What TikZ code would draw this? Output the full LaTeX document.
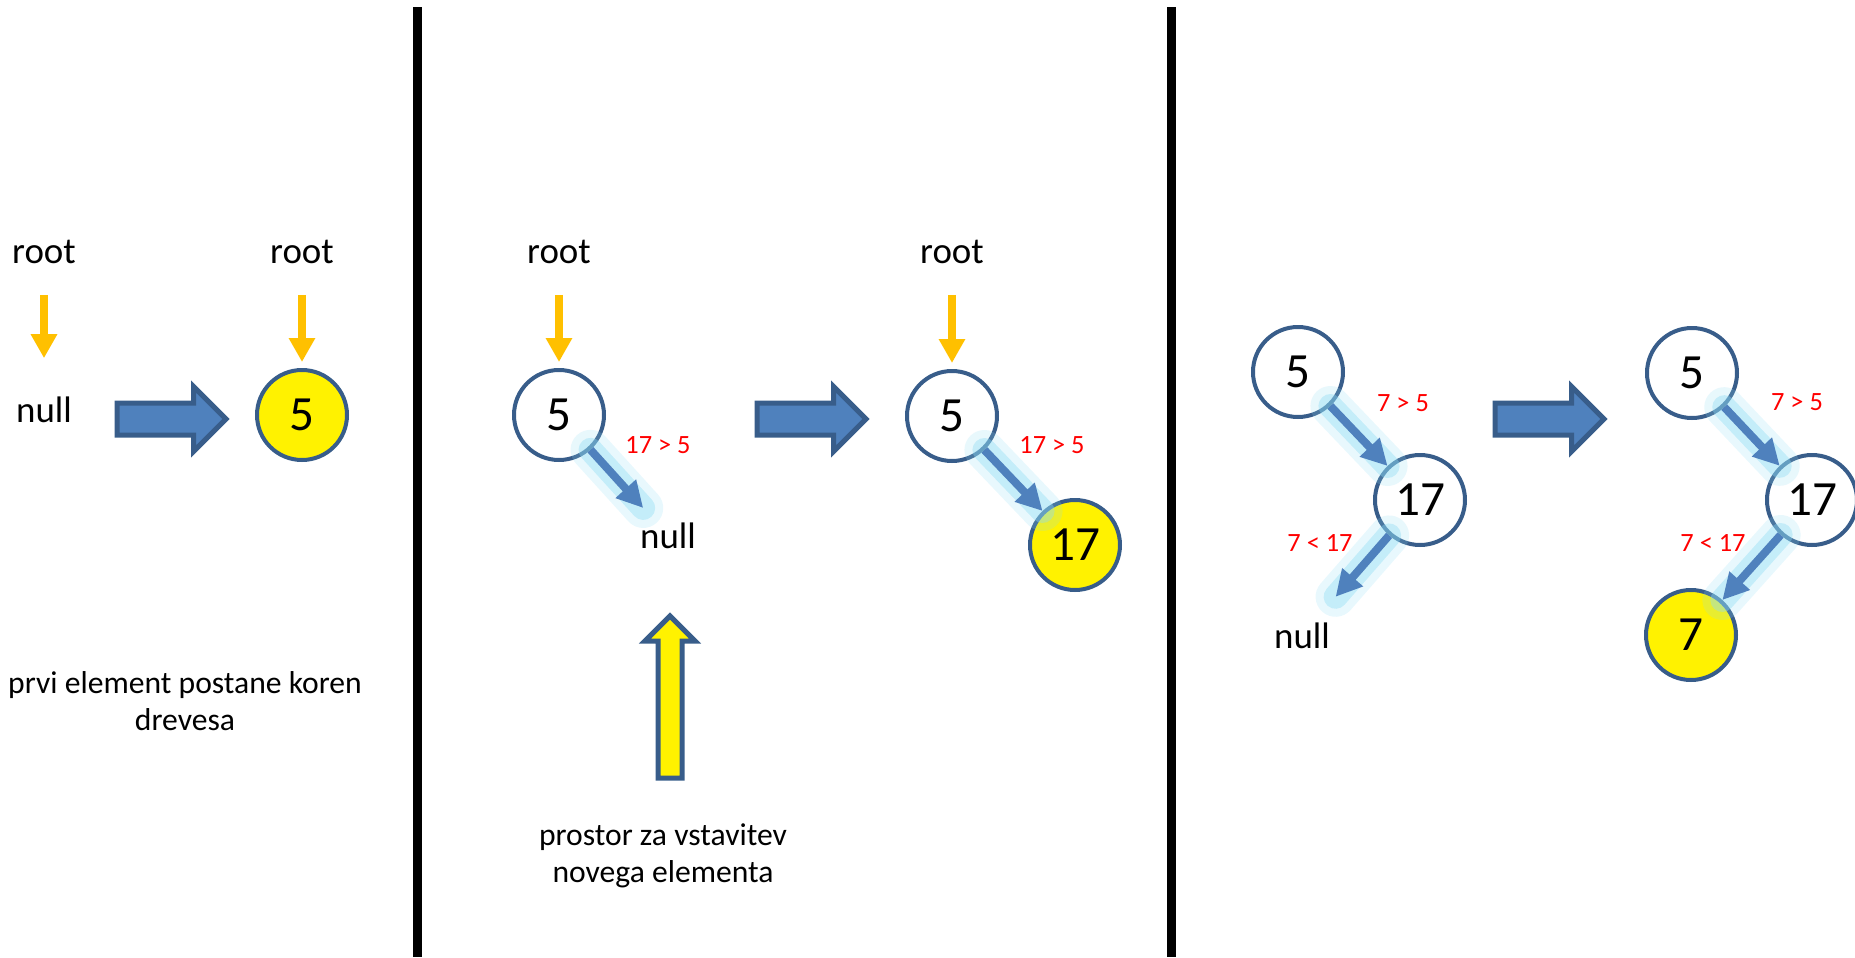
\documentclass[tikz,border=0pt]{standalone}
\usepackage{fontspec}
\setmainfont{Carlito}
\usetikzlibrary{%
  arrows.meta,%
  shapes.arrows,%
  positioning%
}
\definecolor{nodeblue}{HTML}{385D8A}
\definecolor{arrowblue}{HTML}{4F81BD}
\definecolor{rootorange}{HTML}{FFC000}
\definecolor{glowblue}{HTML}{8EDCF4}

\begin{document}
\begin{tikzpicture}[
  txt/.style={font=\fontsize{10.5}{12}\selectfont, inner sep=0pt, anchor=base},
  note/.style={font=\fontsize{9}{10.5}\selectfont, inner sep=0pt, align=center},
  cmp/.style={font=\fontsize{7.5}{9}\selectfont, text=red, inner sep=0pt},
  tnode/.style={circle, draw=nodeblue, line width=0.04cm, fill=white, minimum size=0.9cm, inner sep=0pt, font=\fontsize{14}{16}\selectfont},
  newnode/.style={tnode, fill=yellow},
  rootptr/.style={draw=rootorange, line width=0.08cm, -{Triangle[width=0.25cm,length=0.24cm]}},
  branch/.style={draw=arrowblue, line width=0.08cm, -{Triangle[width=0.26cm,length=0.26cm]},
    preaction={draw=glowblue, line width=0.40cm, opacity=0.2, line cap=round, -},
    preaction={draw=glowblue, line width=0.24cm, opacity=0.4, line cap=round, -}},
  bigarrow/.style={single arrow, anchor=tail, draw=nodeblue, fill=arrowblue, line width=0.05cm, minimum height=1.09cm, inner sep=0.135cm, single arrow head extend=0.165cm},
  spaceptr/.style={single arrow, anchor=tail, shape border rotate=90, draw=nodeblue, fill=yellow, line width=0.05cm, minimum height=1.62cm, inner sep=0.095cm, single arrow head extend=0.13cm},
  sep/.style={line width=0.09cm}
]
\useasboundingbox (0,0) rectangle (18.55,9.57);

% separators
\draw[sep] (4.17,9.5) -- (4.17,0);
\draw[sep] (11.71,9.5) -- (11.71,0);

% first element
\node[txt] (root1) at (0.44,6.94) {root};
\node[txt] (null1) at (0.44,5.35) {null};
\node[bigarrow] (then1) at (1.145,5.38) {};
\node[txt] (root2) at (3.02,6.94) {root};
\node[newnode] (c5) at (3.02,5.42) {5};
\node[note] (info1) at (1.85,2.56) {prvi element postane koren\\drevesa};
\draw[rootptr, shorten <=0.31cm, shorten >=0.375cm] (root1) -- (null1);
\draw[rootptr, shorten <=0.31cm, shorten >=0.06cm] (root2) -- (c5);

% second element
\node[txt] (root3) at (5.59,6.94) {root};
\node[tnode] (n5a) at (5.59,5.42) {5};
\node[cmp] (gt1) at (6.58,5.12) {17 > 5};
\node[txt] (null2) at (6.68,4.09) {null};
\node[spaceptr] (slot) at (6.70,1.765) {};
\node[note] (info2) at (6.63,1.01) {prostor za vstavitev\\novega elementa};
\node[bigarrow] (then2) at (7.545,5.38) {};
\node[txt] (root4) at (9.52,6.94) {root};
\node[tnode] (n5b) at (9.52,5.41) {5};
\node[cmp] (gt2) at (10.52,5.12) {17 > 5};
\node[newnode] (n17) at (10.75,4.12) {17};
\draw[rootptr, shorten <=0.31cm, shorten >=0.06cm] (root3) -- (n5a);
\draw[rootptr, shorten <=0.31cm, shorten >=0.06cm] (root4) -- (n5b);
\draw[branch, shorten >=0.185cm] (n5a) -- (null2);
\draw[branch] (n5b) -- (n17);

% third element
\node[tnode] (p5a) at (12.98,5.85) {5};
\node[cmp] (gt3) at (14.03,5.54) {7 > 5};
\node[tnode] (p17a) at (14.20,4.57) {17};
\node[cmp] (lt1) at (13.20,4.14) {7 < 17};
\node[txt] (null3) at (13.02,3.09) {null};
\node[bigarrow] (then3) at (14.925,5.38) {};
\node[tnode] (p5b) at (16.92,5.84) {5};
\node[cmp] (gt4) at (17.97,5.55) {7 > 5};
\node[tnode] (p17b) at (18.12,4.57) {17};
\node[cmp] (lt2) at (17.13,4.14) {7 < 17};
\node[newnode] (p7) at (16.91,3.22) {7};
\draw[branch] (p5a) -- (p17a);
\draw[branch, shorten >=0.33cm] (p17a) -- (null3);
\draw[branch] (p5b) -- (p17b);
\draw[branch] (p17b) -- (p7);

\end{tikzpicture}
\end{document}
